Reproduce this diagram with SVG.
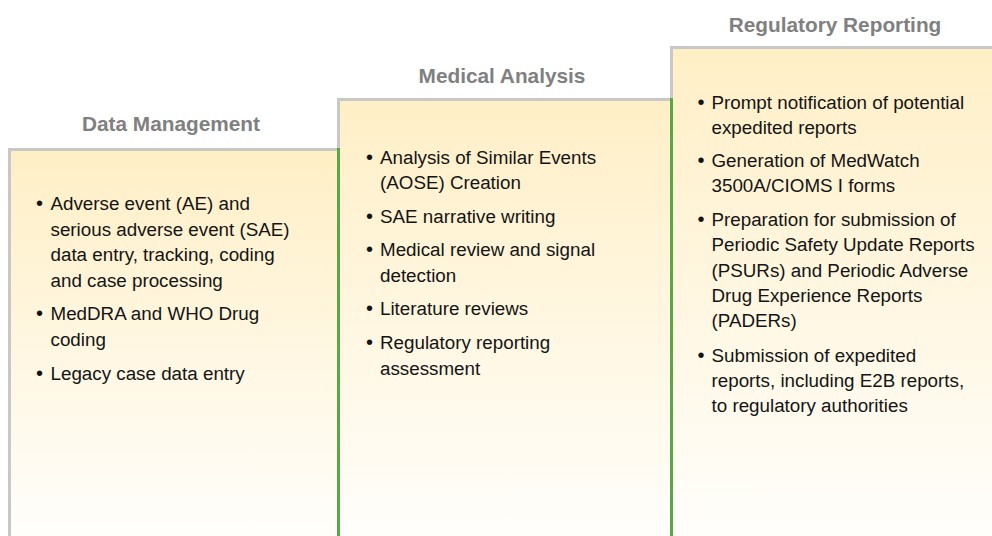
<svg xmlns="http://www.w3.org/2000/svg" width="992" height="536" viewBox="0 0 992 536">
<style>
.title{font-family:"Liberation Sans",Arial,sans-serif;font-weight:bold;font-size:20.8px;fill:#808080;text-anchor:middle}
.body{font-family:"Liberation Sans",Arial,sans-serif;font-size:18.8px;fill:#141414}
.bul{font-family:"Liberation Sans",Arial,sans-serif;font-size:20px;fill:#141414;text-anchor:middle}
.gray{fill:#c8c8c8}
.green{fill:#5aa845}
</style>
<defs>
<linearGradient id="fillg" x1="0" y1="0" x2="0" y2="1">
<stop offset="0" stop-color="#ffefc6"/>
<stop offset="1" stop-color="#fffefb"/>
</linearGradient>
</defs>
<rect width="992" height="536" fill="#ffffff"/>

<g id="data-management">
<rect x="11" y="151" width="326" height="385" fill="url(#fillg)"/>
<rect class="gray" x="8" y="148" width="329" height="3"/>
<rect class="gray" x="8" y="148" width="3" height="388"/>
<text class="title" x="171" y="131">Data Management</text>
<text class="bul" x="39.5" y="210">•</text>
<text class="body" x="50.5" y="210">Adverse event (AE) and</text>
<text class="body" x="50.5" y="235.5">serious adverse event (SAE)</text>
<text class="body" x="50.5" y="261">data entry, tracking, coding</text>
<text class="body" x="50.5" y="286.5">and case processing</text>
<text class="bul" x="39.5" y="320">•</text>
<text class="body" x="50.5" y="320">MedDRA and WHO Drug</text>
<text class="body" x="50.5" y="345.5">coding</text>
<text class="bul" x="39.5" y="379.5">•</text>
<text class="body" x="50.5" y="379.5">Legacy case data entry</text>
</g>

<g id="medical-analysis">
<rect x="340" y="101" width="330" height="435" fill="url(#fillg)"/>
<rect class="gray" x="337" y="98" width="333" height="3"/>
<rect class="gray" x="337" y="98" width="3" height="50"/>
<text class="title" x="502" y="82.5">Medical Analysis</text>
<text class="bul" x="369.5" y="163.5">•</text>
<text class="body" x="380" y="163.5">Analysis of Similar Events</text>
<text class="body" x="380" y="189">(AOSE) Creation</text>
<text class="bul" x="369.5" y="223">•</text>
<text class="body" x="380" y="223">SAE narrative writing</text>
<text class="bul" x="369.5" y="256">•</text>
<text class="body" x="380" y="256">Medical review and signal</text>
<text class="body" x="380" y="281.5">detection</text>
<text class="bul" x="369.5" y="315">•</text>
<text class="body" x="380" y="315">Literature reviews</text>
<text class="bul" x="369.5" y="349">•</text>
<text class="body" x="380" y="349">Regulatory reporting</text>
<text class="body" x="380" y="374.5">assessment</text>
</g>

<g id="regulatory-reporting">
<rect x="673" y="49" width="319" height="487" fill="url(#fillg)"/>
<rect class="gray" x="670" y="46" width="322" height="3"/>
<rect class="gray" x="670" y="46" width="3" height="52"/>
<text class="title" x="835" y="32">Regulatory Reporting</text>
<text class="bul" x="701" y="108.5">•</text>
<text class="body" x="711.5" y="108.5">Prompt notification of potential</text>
<text class="body" x="711.5" y="133.5">expedited reports</text>
<text class="bul" x="701" y="167">•</text>
<text class="body" x="711.5" y="167">Generation of MedWatch</text>
<text class="body" x="711.5" y="192">3500A/CIOMS I forms</text>
<text class="bul" x="701" y="225.5">•</text>
<text class="body" x="711.5" y="225.5">Preparation for submission of</text>
<text class="body" x="711.5" y="251">Periodic Safety Update Reports</text>
<text class="body" x="711.5" y="276.5">(PSURs) and Periodic Adverse</text>
<text class="body" x="711.5" y="302">Drug Experience Reports</text>
<text class="body" x="711.5" y="327">(PADERs)</text>
<text class="bul" x="701" y="361.5">•</text>
<text class="body" x="711.5" y="361.5">Submission of expedited</text>
<text class="body" x="711.5" y="387">reports, including E2B reports,</text>
<text class="body" x="711.5" y="412">to regulatory authorities</text>
</g>

<g id="connectors">
<rect class="green" x="337" y="148" width="3" height="388"/>
<rect class="green" x="670" y="98" width="3" height="438"/>
</g>
</svg>
